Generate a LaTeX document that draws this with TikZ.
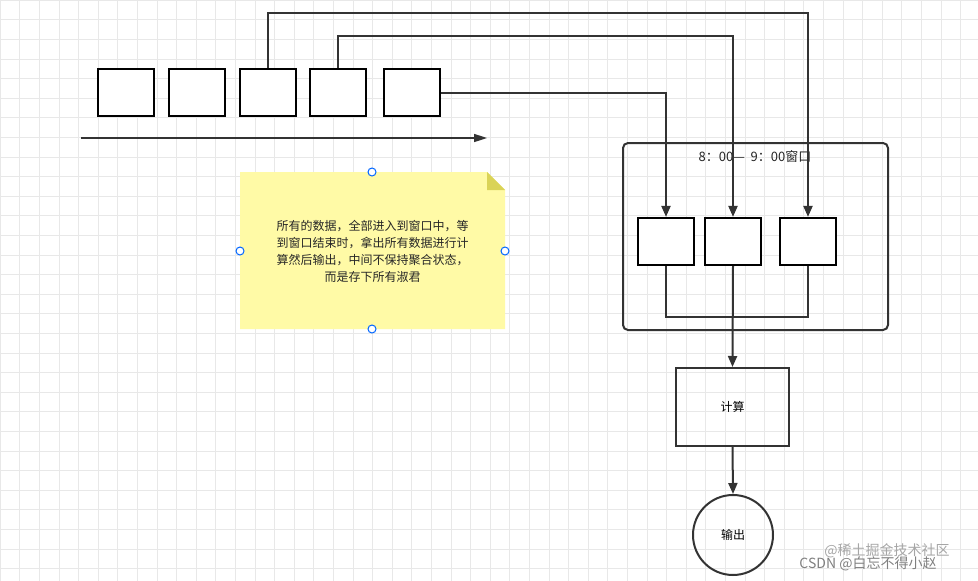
\documentclass[tikz,border=0pt]{standalone}
\usepackage{fontspec}
\setmainfont{Noto Sans CJK SC}
\usetikzlibrary{arrows.meta}
\begin{document}
\begin{tikzpicture}[x=1pt,y=-1pt,
  box/.style={draw=black,line width=2.2pt,fill=white,minimum width=56pt,minimum height=47pt,inner sep=0pt},
  conn/.style={draw=black!80,line width=2pt},
  arr/.style={conn,-{Triangle[length=11pt,width=9pt]}},
  handle/.style={circle,draw=blue!60!cyan,fill=white,line width=1pt,minimum size=8pt,inner sep=0pt}]
\useasboundingbox (0,0) rectangle (978,581);
\fill[white] (0,0) rectangle (978,581);
\foreach \i in {0,...,49} \draw[black!9,line width=0.6pt] (\i*19.6,0) -- (\i*19.6,581);
\foreach \i in {0,...,29} \draw[black!9,line width=0.6pt] (0,\i*19.6) -- (978,\i*19.6);
% window
\node[draw=black!80,line width=2pt,rounded corners=5pt,minimum width=265pt,minimum height=187pt,inner sep=0pt] (win) at (755.5,236.5) {};
\node[font=\fontsize{13}{15}\selectfont,text=black!85] (wt) at (755,157) {8：00—\ \ 9：00窗口};
% top boxes
\node[box] (a1) at (126,92.5) {};
\node[box] (a2) at (197,92.5) {};
\node[box] (a3) at (268,92.5) {};
\node[box] (a4) at (338,92.5) {};
\node[box] (a5) at (412,92.5) {};
\coordinate (s0) at (81,138);
\coordinate (s1) at (487,138);
\draw[conn,line width=1.6pt,-{Triangle[length=13pt,width=8pt]}] (s0) -- (s1);
% inner boxes
\node[box] (b1) at (666,241.5) {};
\node[box] (b2) at (733,241.5) {};
\node[box] (b3) at (808,241.5) {};
\draw[arr] (a3.north) |- (538,13) -| (b3.north);
\draw[arr] (a4.north) |- (538,36) -| (b2.north);
\draw[arr] (a5.east) -| (b1.north);
\draw[conn] (b1.south) |- (733,317) -| (b3.south);
% compute
\node[draw=black!80,line width=2pt,minimum width=113pt,minimum height=78pt,inner sep=0pt,font=\fontsize{12}{14}\selectfont] (calc) at (732.5,407) {计算};
\draw[arr] (b2.south) -- (calc.north);
\node[circle,draw=black!80,line width=2pt,minimum size=80pt,inner sep=0pt,font=\fontsize{12}{14}\selectfont] (out) at (733,535) {输出};
\draw[arr] (calc.south) -- (out.north);
% note
\fill[yellow!35] (240,172) -- (487,172) -- (505,190) -- (505,329) -- (240,329) -- cycle;
\fill[olive!55!yellow!60] (487,172) -- (505,190) -- (487,190) -- cycle;
\node[font=\fontsize{12}{17}\selectfont,align=center,text width=260pt,text=black!85] (note) at (372.5,251) {所有的数据，全部进入到窗口中，等\\到窗口结束时，拿出所有数据进行计\\算然后输出，中间不保持聚合状态，\\而是存下所有淑君};
\node[handle] (h1) at (372,172) {};
\node[handle] (h2) at (372,329) {};
\node[handle] (h3) at (240,251) {};
\node[handle] (h4) at (505,251) {};
% watermark
\node[font=\fontsize{14}{15}\selectfont,text=black!35] (w1) at (887,551) {@稀土掘金技术社区};
\node[font=\fontsize{14}{15}\selectfont,text=black!50] (w2) at (868,564) {CSDN @白忘不得小赵};
\end{tikzpicture}
\end{document}
